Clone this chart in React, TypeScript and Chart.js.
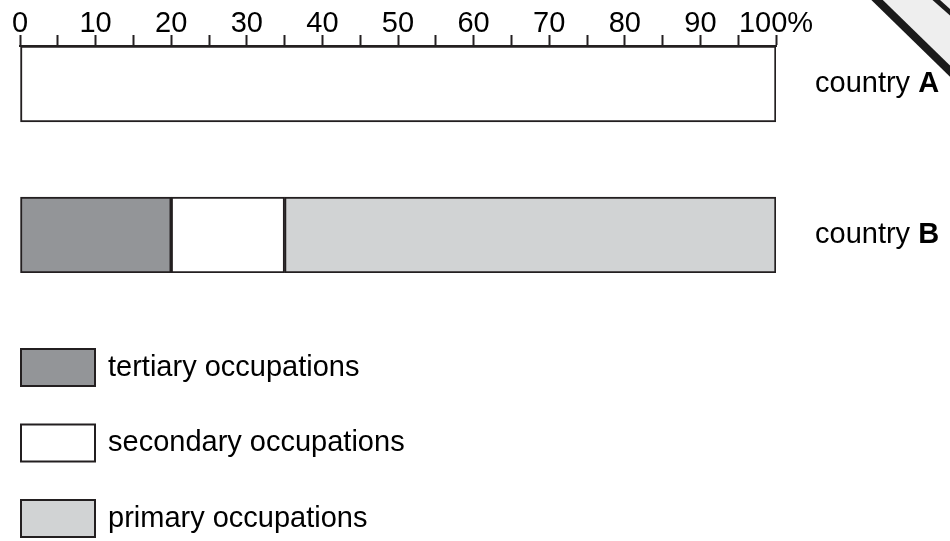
import React, { useEffect, useRef } from "react";
import { Chart, registerables } from "chart.js";

Chart.register(...registerables);

const categories = ["country A", "country B"];
const tertiary = [null, 20];
const secondary = [null, 15];
const primary = [null, 65];
const unfilled = [100, null];
const tickLabels = ["0", "10", "20", "30", "40", "50", "60", "70", "80", "90", "100%"];
const legendLabels = ["tertiary occupations", "secondary occupations", "primary occupations"];

const INK = "#231f20";
const FONT = "'Liberation Sans', Arial, Helvetica, sans-serif";

const toPoints = (arr: (number | null)[]) =>
  arr
    .map((v, i) => ({ x: v, y: i }))
    .filter((p) => p.x !== null);

const extrasPlugin = {
  id: "extras",
  afterDraw(chart: any) {
    const { ctx, chartArea } = chart;
    const yScale = chart.scales.y;
    ctx.save();
    // category labels at right
    ctx.fillStyle = "#000";
    ctx.textBaseline = "alphabetic";
    categories.forEach((c, i) => {
      const y = yScale.getPixelForValue(i) + 8;
      const parts = c.split(" ");
      const last = parts.pop() as string;
      const first = parts.join(" ") + " ";
      const x = chartArea.right + 39;
      ctx.font = `29px ${FONT}`;
      ctx.fillText(first, x, y);
      const w = ctx.measureText(first).width;
      ctx.font = `bold 29px ${FONT}`;
      ctx.fillText(last, x + w, y);
    });
    // legend
    const legendSets = chart.data.datasets.slice(0, 3);
    legendSets.forEach((ds: any, i: number) => {
      const top = 348 + i * 75.5;
      const h = 39;
      ctx.fillStyle = INK;
      ctx.fillRect(20, top, 76, h);
      ctx.fillStyle = ds.backgroundColor;
      ctx.fillRect(22, top + 2, 72, h - 4);
      ctx.fillStyle = "#000";
      ctx.font = `29px ${FONT}`;
      ctx.fillText(ds.label, 108, top + h / 2 + 8);
    });
    // scanned page corner
    ctx.fillStyle = "#eeeeee";
    ctx.beginPath();
    ctx.moveTo(880, 0);
    ctx.lineTo(950, 0);
    ctx.lineTo(950, 66);
    ctx.closePath();
    ctx.fill();
    ctx.strokeStyle = "#1a1a1a";
    ctx.lineWidth = 8;
    ctx.beginPath();
    ctx.moveTo(874, -3);
    ctx.lineTo(953, 74);
    ctx.stroke();
    ctx.lineWidth = 5;
    ctx.beginPath();
    ctx.moveTo(934, -2);
    ctx.lineTo(952, 14);
    ctx.stroke();
    ctx.restore();
  },
};

export default function App() {
  const ref = useRef<HTMLCanvasElement>(null);
  useEffect(() => {
    if (!ref.current) return;
    const barStyle = {
      borderColor: INK,
      borderWidth: 2,
      borderSkipped: false,
      barThickness: 76,
    };
    const chart = new Chart(ref.current, {
      type: "bar",
      data: {
        datasets: [
          { label: legendLabels[0], data: toPoints(tertiary), backgroundColor: "#939598", ...barStyle },
          { label: legendLabels[1], data: toPoints(secondary), backgroundColor: "#ffffff", ...barStyle },
          { label: legendLabels[2], data: toPoints(primary), backgroundColor: "#d1d3d4", ...barStyle },
          { label: "unfilled", data: toPoints(unfilled), backgroundColor: "#ffffff", ...barStyle },
        ] as any,
      },
      options: {
        indexAxis: "y",
        animation: false,
        responsive: false,
        devicePixelRatio: 1,
        layout: { padding: { left: 20, right: 174, top: 12, bottom: 268 } },
        plugins: { legend: { display: false }, tooltip: { enabled: false } },
        scales: {
          x: {
            type: "linear",
            position: "top",
            stacked: true,
            min: 0,
            max: 100,
            grid: {
              display: true,
              drawOnChartArea: false,
              drawTicks: true,
              tickLength: 11,
              tickWidth: 2,
              tickColor: INK,
              color: INK,
            },
            border: { display: true, color: INK, width: 2 },
            ticks: {
              stepSize: 5,
              autoSkip: false,
              maxRotation: 0,
              padding: -3,
              color: "#000",
              font: { family: FONT, size: 29, lineHeight: 1 },
              callback: (v: any) => (Number(v) % 10 === 0 ? tickLabels[Number(v) / 10] : ""),
            },
          },
          y: {
            type: "linear",
            display: false,
            stacked: true,
            reverse: true,
            offset: false,
            grid: { offset: false },
            min: -0.2517,
            max: 1.2517,
          },
        },
      } as any,
      plugins: [extrasPlugin],
    });
    return () => chart.destroy();
  }, []);
  return (
    <div style={{ position: "absolute", left: 0, top: 0, width: 950, height: 541, background: "#fff" }}>
      <canvas ref={ref} width={950} height={541} />
    </div>
  );
}
